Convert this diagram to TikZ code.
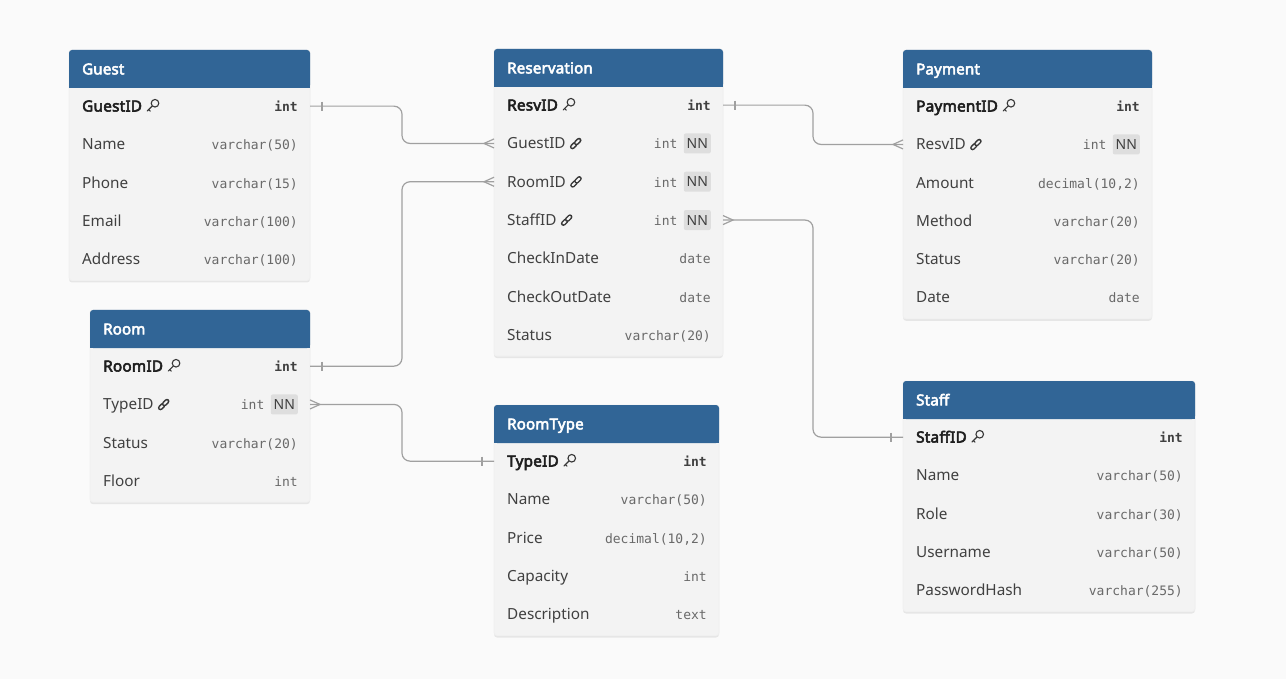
\documentclass[tikz,border=0pt]{standalone}
\usepackage{fontspec}
\setmainfont{Noto Sans}[BoldFont={Noto Sans}, BoldFeatures={FakeBold=3.6, LetterSpace=1.5}]
\newfontfamily\monof{DejaVu Sans Mono}
\usetikzlibrary{shadows,calc}

\definecolor{hdr}{RGB}{49,101,150}
\definecolor{bodyc}{RGB}{243,243,243}
\definecolor{bgc}{RGB}{250,250,250}
\definecolor{txt}{RGB}{64,64,64}
\definecolor{txtb}{RGB}{30,30,30}
\definecolor{typec}{RGB}{105,105,105}
\definecolor{linec}{RGB}{160,160,160}
\definecolor{nnbg}{RGB}{222,222,222}
\definecolor{iconc}{RGB}{55,55,55}

\tikzset{
  txtnode/.style={inner sep=0pt, text height=10.7pt, text depth=0pt},
  fname/.style={txtnode, text=txt, font=\fontsize{15.3}{18}\selectfont},
  fnamepk/.style={txtnode, text=txtb, font=\fontsize{15.3}{18}\selectfont\bfseries},
  ftype/.style={txtnode, text=typec, font=\monof\fontsize{13}{16}\selectfont},
  ftypepk/.style={txtnode, text=txt, font=\monof\fontsize{13}{16}\selectfont\bfseries},
  ttl/.style={txtnode, text=white, font=\fontsize{15}{18}\selectfont\bfseries},
  nnbadge/.style={inner sep=0pt, minimum width=27pt, minimum height=20pt, text height=10pt, text depth=0pt,
    fill=nnbg, rounded corners=2pt, text=txt, font=\fontsize{14}{16}\selectfont},
  tblbody/.style={fill=bodyc, draw=black!6, line width=0.8pt, rounded corners=3pt,
    drop shadow={opacity=0.08, shadow xshift=0pt, shadow yshift=-2pt, fill=black}},
  conn/.style={draw=linec, line width=1.2pt, rounded corners=8pt},
  cardmark/.style={draw=linec, line width=1.2pt},
  keyicon/.pic={
    \draw[iconc, line width=1.1pt] (8.8,-2.9) circle (3.8);
    \draw[iconc, line width=1.1pt, line cap=round] (6.1,-0.2) -- (1,4.9);
    \draw[iconc, line width=1.1pt, line cap=round] (2.5,3.4) -- (4.1,5);
  },
  linkicon/.pic={
    \draw[iconc, line width=5pt, line cap=round] (2.6,3.4) -- (5.2,0.8);
    \draw[bodyc, line width=2.0pt, line cap=round] (2.6,3.4) -- (5.2,0.8);
    \draw[iconc, line width=5pt, line cap=round] (6.6,-0.6) -- (9.2,-3.2);
    \draw[bodyc, line width=2.0pt, line cap=round] (6.6,-0.6) -- (9.2,-3.2);
  }
}

\def\kpk{pk}
\def\kfk{fk}

% #1 id, #2 left, #3 top, #4 right, #5 number of rows, #6 title, #7 rows
\newcommand\ertable[7]{%
  \path[tblbody] (#2,#3) rectangle (#4,{#3+39+#5*38.3});
  \fill[hdr, rounded corners=3pt] (#2,#3) rectangle (#4,{#3+38});
  \fill[hdr] (#2,{#3+10}) rectangle (#4,{#3+38});
  \node[ttl, anchor=west] (#1) at ({#2+13},{#3+19}) {#6};
  \foreach \f/\t/\k [count=\i] in {#7}{%
    \pgfmathsetmacro\yy{#3+38+(\i-0.5)*38.3-1}%
    \coordinate (#1-\f-L) at (#2,\yy);
    \coordinate (#1-\f-R) at (#4,\yy);
    \edef\kk{\k}%
    \ifx\kk\kpk
      \node[fnamepk, anchor=west] (#1-\f) at ({#2+13},\yy) {\f};
      \pic at ([xshift=4pt]#1-\f.east) {keyicon};
      \node[ftypepk, anchor=east] (#1-\f-t) at ({#4-12},\yy) {\t};
    \else\ifx\kk\kfk
      \node[fname, anchor=west] (#1-\f) at ({#2+13},\yy) {\f};
      \pic at ([xshift=4pt]#1-\f.east) {linkicon};
      \node[nnbadge, anchor=east] (#1-\f-nn) at ({#4-12},\yy) {NN};
      \node[ftype, anchor=east] (#1-\f-t) at ([xshift=-6pt]#1-\f-nn.west) {\t};
    \else
      \node[fname, anchor=west] (#1-\f) at ({#2+13},\yy) {\f};
      \node[ftype, anchor=east] (#1-\f-t) at ({#4-12},\yy) {\t};
    \fi\fi
  }%
}

% #1 coordinate, #2 direction (+1 going right, -1 going left)
\newcommand\onemark[2]{%
  \draw[cardmark] ($(#1)+(#2*12,-4.5)$) -- ($(#1)+(#2*12,4.5)$);}
\newcommand\manymark[2]{%
  \draw[cardmark] ($(#1)+(0,-4.5)$) -- ($(#1)+(#2*10,0)$) -- ($(#1)+(0,4.5)$);}

\begin{document}
\begin{tikzpicture}[x=1pt, y=-1pt]
\useasboundingbox (0,0) rectangle (1286,679);
\fill[bgc] (0,0) rectangle (1286,679);

\ertable{guest}{69}{50}{310}{5}{Guest}{GuestID/int/pk, Name/varchar(50)/no, Phone/varchar(15)/no, Email/varchar(100)/no, Address/varchar(100)/no}
\ertable{res}{494}{49}{723}{7}{Reservation}{ResvID/int/pk, GuestID/int/fk, RoomID/int/fk, StaffID/int/fk, CheckInDate/date/no, CheckOutDate/date/no, Status/varchar(20)/no}
\ertable{pay}{903}{50}{1152}{6}{Payment}{PaymentID/int/pk, ResvID/int/fk, Amount/{decimal(10,2)}/no, Method/varchar(20)/no, Status/varchar(20)/no, Date/date/no}
\ertable{room}{90}{310}{310}{4}{Room}{RoomID/int/pk, TypeID/int/fk, Status/varchar(20)/no, Floor/int/no}
\ertable{rtype}{494}{405}{719}{5}{RoomType}{TypeID/int/pk, Name/varchar(50)/no, Price/{decimal(10,2)}/no, Capacity/int/no, Description/text/no}
\ertable{staff}{903}{381}{1195}{5}{Staff}{StaffID/int/pk, Name/varchar(50)/no, Role/varchar(30)/no, Username/varchar(50)/no, PasswordHash/varchar(255)/no}

% connectors
\draw[conn] (guest-GuestID-R) -| ($(guest-GuestID-R)!.5!(res-GuestID-L)$) |- (res-GuestID-L);
\onemark{guest-GuestID-R}{1}
\manymark{res-GuestID-L}{-1}

\draw[conn] (room-RoomID-R) -| ($(room-RoomID-R)!.5!(res-RoomID-L)$) |- (res-RoomID-L);
\onemark{room-RoomID-R}{1}
\manymark{res-RoomID-L}{-1}

\draw[conn] (room-TypeID-R) -| ($(room-TypeID-R)!.5!(rtype-TypeID-L)$) |- (rtype-TypeID-L);
\manymark{room-TypeID-R}{1}
\onemark{rtype-TypeID-L}{-1}

\draw[conn] (res-ResvID-R) -| ($(res-ResvID-R)!.5!(pay-ResvID-L)$) |- (pay-ResvID-L);
\onemark{res-ResvID-R}{1}
\manymark{pay-ResvID-L}{-1}

\draw[conn] (res-StaffID-R) -| ($(res-StaffID-R)!.5!(staff-StaffID-L)$) |- (staff-StaffID-L);
\manymark{res-StaffID-R}{1}
\onemark{staff-StaffID-L}{-1}
\end{tikzpicture}
\end{document}
